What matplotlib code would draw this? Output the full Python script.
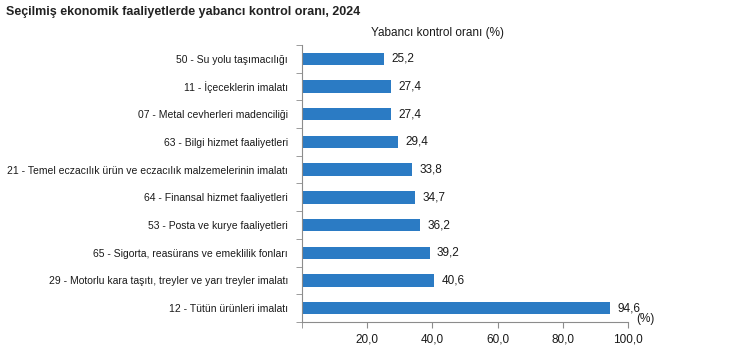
import matplotlib.pyplot as plt
import numpy as np
from matplotlib.ticker import FixedLocator

plt.rcParams['font.family'] = ['Liberation Sans', 'DejaVu Sans']

categories = [
    "50 - Su yolu taşımacılığı",
    "11 - İçeceklerin imalatı",
    "07 - Metal cevherleri madenciliği",
    "63 - Bilgi hizmet faaliyetleri",
    "21 - Temel eczacılık ürün ve eczacılık malzemelerinin imalatı",
    "64 - Finansal hizmet faaliyetleri",
    "53 - Posta ve kurye faaliyetleri",
    "65 - Sigorta, reasürans ve emeklilik fonları",
    "29 - Motorlu kara taşıtı, treyler ve yarı treyler imalatı",
    "12 - Tütün ürünleri imalatı",
]
values = [25.2, 27.4, 27.4, 29.4, 33.8, 34.7, 36.2, 39.2, 40.6, 94.6]
x_ticks = [20, 40, 60, 80, 100]

bar_color = "#2B7BC4"
axis_color = "#8C8C8C"
text_color = "#1A1A1A"

fig = plt.figure(figsize=(7.5, 3.46), dpi=100)
ax = fig.add_axes([0.4027, 0.0694, 0.4346, 0.8006])

y = np.arange(len(categories))
ax.barh(y, values, height=0.45, color=bar_color)
ax.set_ylim(len(categories) - 0.5, -0.5)
ax.set_xlim(0, 100)

# value labels to the right of each bar
for yi, v in zip(y, values):
    ax.text(v + 2.2, yi, f"{v:.1f}".replace(".", ","), va="center", ha="left",
            fontsize=8.5, color=text_color)

ax.set_yticks(y)
ax.set_yticklabels(categories, fontsize=7.5, color=text_color)
ax.tick_params(axis="y", length=0, pad=10)
ax.yaxis.set_minor_locator(FixedLocator(np.arange(-0.5, len(categories), 1)))
ax.tick_params(axis="y", which="minor", length=4, color=axis_color, direction="out")

ax.set_xticks(x_ticks)
ax.set_xticklabels([f"{t:.1f}".replace(".", ",") for t in x_ticks], fontsize=8.5, color=text_color)
ax.xaxis.set_minor_locator(FixedLocator([0]))
ax.tick_params(axis="x", which="both", length=4, color=axis_color, pad=4)

for side in ["top", "right"]:
    ax.spines[side].set_visible(False)
for side in ["left", "bottom"]:
    ax.spines[side].set_color(axis_color)
    ax.spines[side].set_linewidth(0.8)

fig.text(0.008, 0.965, "Seçilmiş ekonomik faaliyetlerde yabancı kontrol oranı, 2024",
         fontsize=9, fontweight="bold", color="#222222", va="center", ha="left")
fig.text(0.583, 0.905, "Yabancı kontrol oranı (%)", fontsize=8.5, color=text_color,
         va="center", ha="center")
# unit note just above the end of the x axis
ax.text(105.5, 9.4, "(%)", fontsize=8.5, color=text_color, va="center", ha="center",
        clip_on=False)

fig.savefig("out.png", dpi=100)
